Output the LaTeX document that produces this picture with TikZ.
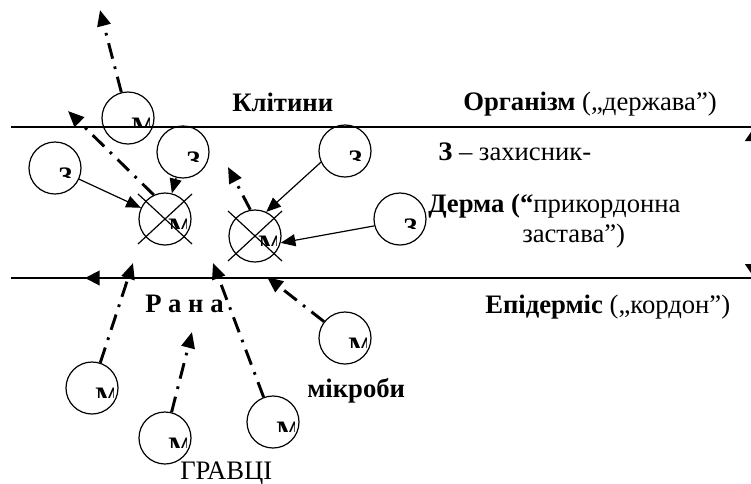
\documentclass[tikz,border=0pt]{standalone}
\usepackage{fontspec}
\setmainfont{Liberation Serif}
\usetikzlibrary{arrows.meta}

\begin{document}
\begin{tikzpicture}[
  x=0.75pt,y=-0.75pt,
  font=\fontsize{20}{23}\selectfont,
  cell/.style={circle,draw,line width=.9pt,minimum size=39pt,inner sep=0pt},
  tag/.style={anchor=north west,inner sep=0pt,font=\fontsize{20}{23}\selectfont\bfseries},
  border/.style={line width=1.1pt},
  cordon/.style={line width=1.5pt},
  microbe/.style={line width=2.2pt,dash pattern=on 12pt off 6pt on 2pt off 6pt,-{Triangle[length=12pt,width=10pt]}},
  hit/.style={line width=.9pt,-{Triangle[length=11pt,width=9pt]}},
  label/.style={anchor=base west,inner sep=0pt}
]
  \useasboundingbox (0,0) rectangle (751,483);

  % layers
  \coordinate (dermL) at (11,127);
  \coordinate (dermR) at (760,127);
  \coordinate (epiL) at (11,278);
  \coordinate (epiR) at (760,278);
  \coordinate (sideT) at (753,129);
  \coordinate (sideB) at (753,276);
  \coordinate (cutS) at (130,278);
  \coordinate (cutT) at (85,278);
  \draw[border] (dermL) -- (dermR);
  \draw[cordon] (epiL) -- (epiR);
  \draw[cordon,-{Triangle[length=11pt,width=11pt]}] (cutS) -- (cutT);
  \draw[border,{Triangle[length=9pt,width=12pt]}-{Triangle[length=9pt,width=12pt]}] (sideT) -- (sideB);

  % cells
  \node[cell] (m0) at (128,118) {};
  \node[cell] (z1) at (55,168) {};
  \node[cell] (z2) at (183,152) {};
  \node[cell] (z3) at (345,151) {};
  \node[cell] (z4) at (400,219) {};
  \node[cell] (x1) at (165,219) {};
  \node[cell] (x2) at (255,236) {};
  \node[cell] (m1) at (92,388) {};
  \node[cell] (m2) at (165,438) {};
  \node[cell] (m3) at (273,422) {};
  \node[cell] (m4) at (345,338) {};

  % half-hidden letters
  \foreach \c/\l in {m0/М,z1/З,z2/З,z3/З,z4/З,x1/М,x2/М,m1/М,m2/М,m3/М,m4/М}{
    \begin{scope}
      \clip ([shift={(-26,-26)}]\c.center) rectangle ([shift={(21,9)}]\c.center);
      \node[tag] (\c-tag) at ([shift={(3,0)}]\c.center) {\l};
    \end{scope}
  }

  \foreach \c in {x1,x2}{
    \draw[line width=.9pt] ([shift={(-27,-25)}]\c.center) -- ([shift={(27,25)}]\c.center);
    \draw[line width=.9pt] ([shift={(27,-25)}]\c.center) -- ([shift={(-27,25)}]\c.center);
  }

  % microbes
  \coordinate (out1) at (100,10);
  \coordinate (out2) at (68,111);
  \coordinate (out3) at (228,167);
  \coordinate (in1) at (133,263);
  \coordinate (in2) at (192,332);
  \coordinate (in3) at (213,263);
  \coordinate (in4) at (267,277);
  \draw[microbe] (m0) -- (out1);
  \draw[microbe] (x1.115) -- (out2);
  \draw[microbe] (x2.100) -- (out3);
  \draw[microbe] (m1) -- (in1);
  \draw[microbe] (m2) -- (in2);
  \draw[microbe] (m3) -- (in3);
  \draw[microbe] (m4) -- (in4);

  % defenders
  \draw[hit] (z1) -- (x1);
  \draw[hit] (z2) -- (x1);
  \draw[hit] (z3.205) -- (x2.65);
  \draw[hit] (z4.195) -- (x2.345);

  % labels
  \node[label] (cells) at (232,111) {\bfseries Клітини};
  \node[label] (body) at (463,110) {\textbf{Організм} („держава”)};
  \node[label] (guard) at (438,160) {\textbf{З} – захисник-};
  \node[label] (derma) at (428,212) {\textbf{Дерма (“}прикордонна};
  \node[label] (post) at (522,242) {застава”)};
  \node[label] (epi) at (485,313) {\textbf{Епідерміс} („кордон”)};
  \node[label] (wound) at (145,312) {\bfseries Р а н а};
  \node[label] (germs) at (307,397) {\bfseries мікроби};
  \node[label] (players) at (180,479) {ГРАВЦІ};
\end{tikzpicture}
\end{document}
